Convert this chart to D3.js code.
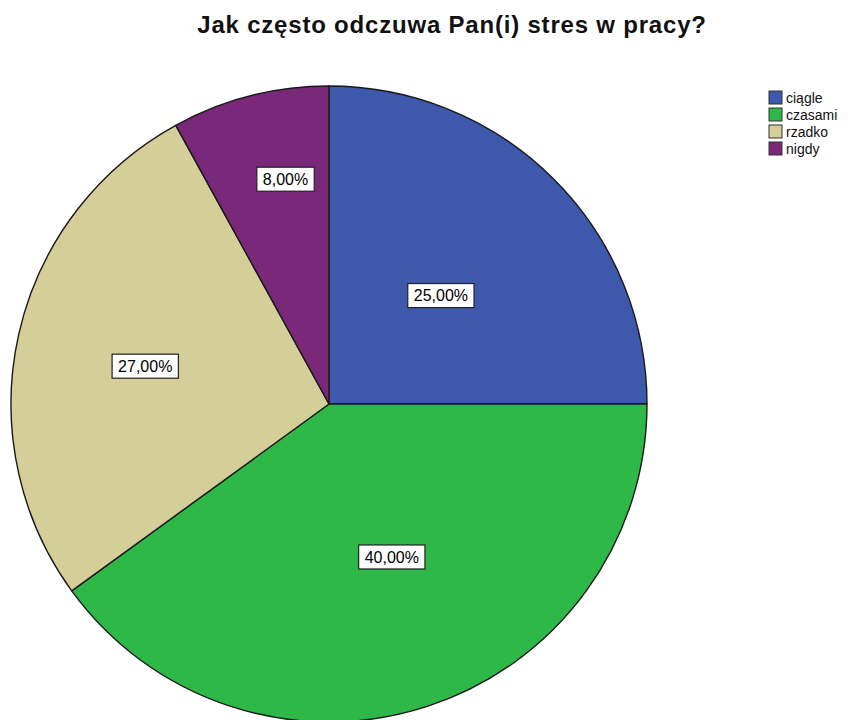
<!DOCTYPE html>
<html>
<head>
<meta charset="utf-8">
<script src="https://cdn.jsdelivr.net/npm/d3@7"></script>
<style>
  html, body { margin: 0; padding: 0; background: #ffffff; }
  svg { display: block; }
</style>
</head>
<body>
<script>
// Survey answers and their shares (percent)
const categories = ["ciągle", "czasami", "rzadko", "nigdy"];
const shares = [25, 40, 27, 8];
const sliceColors = ["#3e58ac", "#2eb848", "#d4ce98", "#7a287a"];
const titleText = "Jak często odczuwa Pan(i) stres w pracy?";

// Layout
const width = 854, height = 720;
const cx = 329, cy = 404, radius = 318;
// value label placement: distance (fraction of radius) and position across the slice (0 = start, 1 = end)
const labelRadius = [0.49, 0.52, 0.59, 0.72];
const labelSpread = [0.51, 0.47, 0.49, 0.62];

const svg = d3.select("body").append("svg")
  .attr("width", width).attr("height", height);

svg.append("text")
  .attr("x", 452).attr("y", 33)
  .attr("text-anchor", "middle")
  .attr("font-family", "Liberation Sans, Arial, sans-serif")
  .attr("font-weight", "bold")
  .attr("font-size", 24)
  .attr("letter-spacing", 0.8)
  .attr("fill", "#111")
  .text(titleText);

const color = d3.scaleOrdinal().domain(categories).range(sliceColors);

const data = categories.map((c, i) => ({ cat: c, value: shares[i] }));
const pie = d3.pie().value(d => d.value).sort(null);
const arcs = pie(data);
const arc = d3.arc().innerRadius(0).outerRadius(radius);

const g = svg.append("g").attr("transform", `translate(${cx},${cy})`);

g.selectAll("path.slice")
  .data(arcs)
  .enter().append("path")
  .attr("class", "slice")
  .attr("d", arc)
  .attr("fill", d => color(d.data.cat))
  .attr("stroke", "#1a1a1a")
  .attr("stroke-width", 1.4)
  .attr("stroke-linejoin", "round");

const fmt = v => d3.format(".2f")(v).replace(".", ",") + "%";

const labels = g.selectAll("g.lab")
  .data(arcs)
  .enter().append("g")
  .attr("class", "lab")
  .attr("transform", (d, i) => {
    const a = d.startAngle + (d.endAngle - d.startAngle) * labelSpread[i];
    const r = radius * labelRadius[i];
    return `translate(${r * Math.sin(a)},${-r * Math.cos(a)})`;
  });

labels.append("text")
  .attr("text-anchor", "middle")
  .attr("dy", "0.36em")
  .attr("font-family", "Liberation Sans, Arial, sans-serif")
  .attr("font-size", 16)
  .attr("fill", "#000")
  .text(d => fmt(d.data.value));

labels.each(function() {
  const gg = d3.select(this);
  const bb = gg.select("text").node().getBBox();
  gg.insert("rect", "text")
    .attr("x", bb.x - 6).attr("y", -12)
    .attr("width", bb.width + 12).attr("height", 24)
    .attr("fill", "#fff")
    .attr("stroke", "#222")
    .attr("stroke-width", 1.2);
});

// Legend
const legend = svg.append("g").attr("transform", "translate(769,91)");
const rows = legend.selectAll("g.row")
  .data(categories)
  .enter().append("g")
  .attr("class", "row")
  .attr("transform", (d, i) => `translate(0,${i * 17})`);

rows.append("rect")
  .attr("width", 13).attr("height", 13)
  .attr("fill", d => color(d))
  .attr("stroke", "#333")
  .attr("stroke-width", 1);

rows.append("text")
  .attr("x", 17).attr("y", 7)
  .attr("dy", "0.36em")
  .attr("font-family", "Liberation Sans, Arial, sans-serif")
  .attr("font-size", 14)
  .attr("fill", "#111")
  .text(d => d);
</script>
</body>
</html>
